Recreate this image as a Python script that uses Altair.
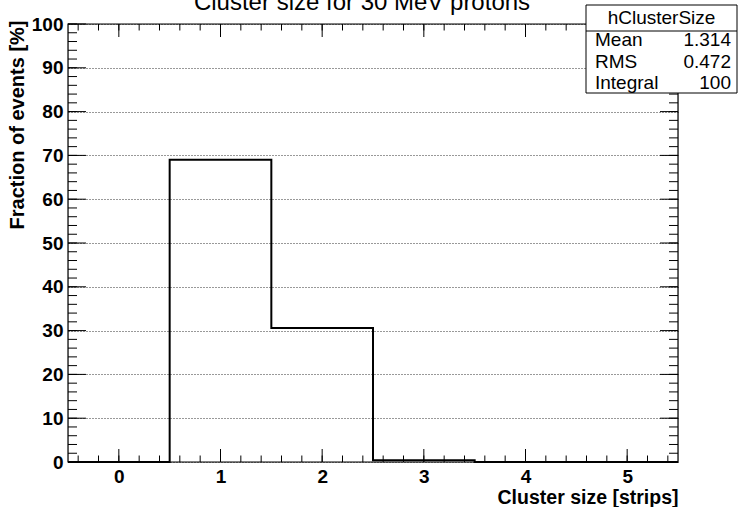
import altair as alt
import numpy as np
import pandas as pd

# ---- data ----
bin_centers = [0, 1, 2, 3, 4, 5]
fractions = [0.0, 69.0, 30.6, 0.4, 0.0, 0.0]
x_tick_labels = [0, 1, 2, 3, 4, 5]
y_tick_labels = [0, 10, 20, 30, 40, 50, 60, 70, 80, 90, 100]
stats_title = "hClusterSize"
stats_labels = ["Mean", "RMS", "Integral"]
stats_values = ["1.314", "0.472", "100"]

title_text = "Cluster size for 30 MeV protons"
x_title = "Cluster size [strips]"
y_title = "Fraction of events [%]"

FONT = "Liberation Sans"
W, H = 610, 438

edges = [c - 0.5 for c in bin_centers] + [bin_centers[-1] + 0.5]
step_df = pd.DataFrame({"x": edges, "y": fractions + [fractions[-1]]})

x_minor = [float(v) for v in np.round(np.arange(-0.4, 5.5, 0.2), 2)]
y_minor = [float(v) for v in np.arange(0, 101, 2)]

xs = alt.Scale(domain=[-0.5, 5.5], nice=False, zero=False)
ys = alt.Scale(domain=[0, 100], nice=False, zero=False)

x_axis = alt.Axis(
    values=x_tick_labels, title=x_title, ticks=False, domain=False, grid=False,
    labelFont=FONT, labelFontSize=19, labelFontWeight="bold", labelColor="black",
    labelPadding=5, labelFlush=False,
    titleFont=FONT, titleFontSize=19.5, titleFontWeight="bold", titleColor="black",
    titleX=W, titleY=35, titleAlign="right", titleBaseline="middle", titleAnchor="end")
y_axis = alt.Axis(
    values=y_tick_labels, title=y_title, ticks=False, domain=False, grid=True,
    gridDash=[1, 2], gridColor="#333333", gridWidth=1,
    labelFont=FONT, labelFontSize=19, labelFontWeight="bold", labelColor="black",
    labelPadding=5, labelFlush=False,
    titleFont=FONT, titleFontSize=20, titleFontWeight="bold", titleColor="black",
    titleX=-51, titleY=-4, titleAngle=270, titleAlign="right",
    titleBaseline="middle", titleAnchor="end")

# histogram + axes
hist = alt.Chart(step_df).mark_line(
    interpolate="step-after", color="black", strokeWidth=2
).encode(
    x=alt.X("x:Q", scale=xs, axis=x_axis),
    y=alt.Y("y:Q", scale=ys, axis=y_axis),
)

def xticks(vals, length):
    df = pd.DataFrame({"x": vals})
    base = alt.Chart(df).mark_rule(color="black", strokeWidth=1)
    bottom = base.encode(x=alt.X("x:Q", scale=xs, axis=x_axis), y=alt.value(H), y2=alt.value(H - length))
    top = base.encode(x=alt.X("x:Q", scale=xs, axis=x_axis), y=alt.value(0), y2=alt.value(length))
    return [bottom, top]

def yticks(vals, length):
    df = pd.DataFrame({"y": vals})
    base = alt.Chart(df).mark_rule(color="black", strokeWidth=1)
    left = base.encode(y=alt.Y("y:Q", scale=ys, axis=y_axis), x=alt.value(0), x2=alt.value(length))
    right = base.encode(y=alt.Y("y:Q", scale=ys, axis=y_axis), x=alt.value(W), x2=alt.value(W - length))
    return [left, right]

tick_layers = (xticks(x_tick_labels, 13) + xticks(x_minor, 6.5)
               + yticks(y_tick_labels, 18) + yticks(y_minor, 9))

one_df = pd.DataFrame({"a": [0]})
frame = alt.Chart(one_df).mark_rect(fill="transparent", stroke="black", strokeWidth=1.2).encode(
    x=alt.value(0), x2=alt.value(W), y=alt.value(0), y2=alt.value(H))

title_mark = alt.Chart(one_df).mark_text(
    text=title_text, font=FONT, fontSize=24, align="center", baseline="alphabetic", color="black"
).encode(x=alt.value(294), y=alt.value(-14))

# stats box
box = alt.Chart(one_df).mark_rect(fill="white", stroke="black", strokeWidth=1).encode(
    x=alt.value(518), x2=alt.value(669), y=alt.value(-19), y2=alt.value(69))
sep = alt.Chart(one_df).mark_rule(color="black", strokeWidth=1).encode(
    x=alt.value(518), x2=alt.value(669), y=alt.value(7), y2=alt.value(7))
stats_head = alt.Chart(one_df).mark_text(
    text=stats_title, font=FONT, fontSize=19, align="center", baseline="middle", color="black"
).encode(x=alt.value(593.5), y=alt.value(-6))
stat_layers = [box, sep, stats_head]
for i, (lab, val) in enumerate(zip(stats_labels, stats_values)):
    yy = 16 + 21.5 * i
    stat_layers.append(alt.Chart(one_df).mark_text(
        text=lab, font=FONT, fontSize=19, align="left", baseline="middle", color="black"
    ).encode(x=alt.value(527), y=alt.value(yy)))
    stat_layers.append(alt.Chart(one_df).mark_text(
        text=val, font=FONT, fontSize=19, align="right", baseline="middle", color="black"
    ).encode(x=alt.value(663), y=alt.value(yy)))

chart = alt.layer(hist, *tick_layers, frame, title_mark, *stat_layers).properties(
    width=W, height=H,
    autosize=alt.AutoSizeParams(type="none"),
    padding={"left": 68, "top": 24, "right": 61, "bottom": 45},
).configure_view(stroke="transparent").configure(background="white")

chart.save("out.html", embed_options={"renderer": "svg", "actions": False})
